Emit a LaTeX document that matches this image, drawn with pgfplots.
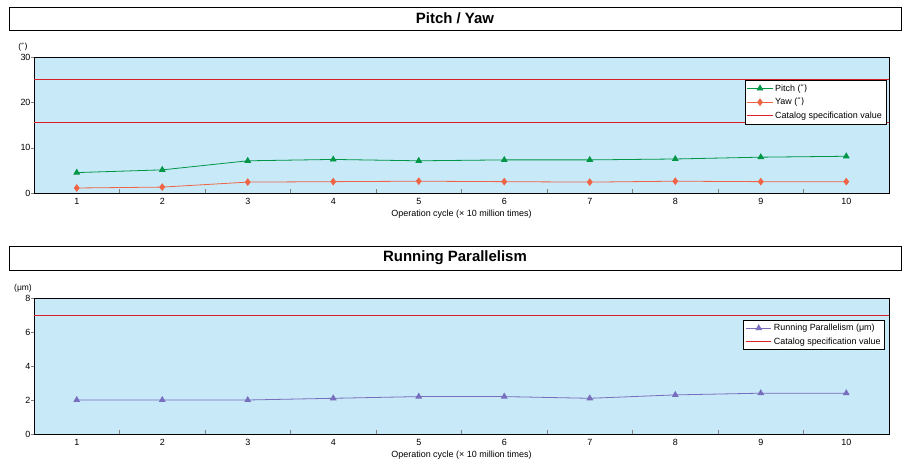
\documentclass[border=0pt]{standalone}
\usepackage{fontspec}
\setmainfont{Liberation Sans}
\newfontfamily\dv{DejaVu Sans}
\usepackage{pgfplots}
\pgfplotsset{compat=1.18}

\definecolor{bgblue}{RGB}{200,233,248}
\definecolor{pgreen}{RGB}{0,150,70}
\definecolor{yred}{RGB}{240,100,70}
\definecolor{specred}{RGB}{220,30,40}
\definecolor{ppurple}{RGB}{120,110,190}

\pgfplotsset{
  runchart/.style={
    width=855bp, height=136bp, scale only axis, anchor=south west,
    axis background/.style={fill=bgblue},
    xmin=0.5, xmax=10.5,
    tick pos=left,
    xtick={1.5,2.5,...,9.5}, xticklabels={},
    extra x ticks={1,...,10},
    extra tick style={major tick length=0pt},
    major tick length=3.5bp,
    ytick style={xshift=-3.5bp},
    /pgf/number format/assume math mode=true,
    tick label style={font=\fontsize{9}{10}\selectfont},
    xticklabel style={yshift=-2bp},
    label style={font=\fontsize{9}{10}\selectfont},
    xlabel={Operation cycle (× 10 million times)},
    xlabel style={yshift=2bp},
    legend style={font=\fontsize{9}{10}\selectfont, draw=black, fill=white,
      cells={anchor=west}, row sep=1.5pt, inner sep=2pt},
    legend image code/.code={\draw[mark repeat=2,mark phase=2]
      plot coordinates {(0cm,0cm) (0.45cm,0cm) (0.9cm,0cm)};},
    every axis plot/.append style={line width=0.8bp},
  }
}

\begin{document}
\begin{tikzpicture}[x=1bp,y=1bp]
\useasboundingbox (0,0) rectangle (912,465);

% title boxes
\draw[line width=0.8bp] (9,458) rectangle (901,435);
\node[font=\bfseries\fontsize{15}{17}\selectfont] at (455,446.5) {Pitch / Yaw};
\draw[line width=0.8bp] (9,219) rectangle (901,195);
\node[font=\bfseries\fontsize{15}{17}\selectfont] at (455,207) {Running Parallelism};

\node[font=\fontsize{8.5}{9}\selectfont] at (23,418) {(\dv{″})};
\node[font=\fontsize{8.5}{9}\selectfont] at (23,177) {(μm)};

\begin{axis}[runchart, at={(34bp,272bp)},
  ymin=0, ymax=30, ytick={0,10,20,30},
  legend style={at={(0.9965,0.83)}, anchor=north east}]
\addplot[pgreen, mark=triangle*, mark size=3.2bp] coordinates {
  (1,4.5) (2,5.1) (3,7.1) (4,7.4) (5,7.1) (6,7.3) (7,7.3) (8,7.5) (9,7.9) (10,8.1)};
\addplot[yred, mark=diamond*, mark size=3.2bp] coordinates {
  (1,1.1) (2,1.3) (3,2.4) (4,2.5) (5,2.6) (6,2.5) (7,2.4) (8,2.6) (9,2.5) (10,2.5)};
\addplot[specred, no marks] coordinates {(0.5,25) (10.5,25)};
\addplot[specred, no marks, forget plot] coordinates {(0.5,15.6) (10.5,15.6)};
\legend{Pitch (\dv{″}), Yaw (\dv{″}), Catalog specification value}
\end{axis}

\begin{axis}[runchart, at={(34bp,31bp)},
  ymin=0, ymax=8, ytick={0,2,...,8},
  legend style={at={(0.995,0.838)}, anchor=north east}]
\addplot[ppurple, mark=triangle*, mark size=3.2bp] coordinates {
  (1,2.0) (2,2.0) (3,2.0) (4,2.1) (5,2.2) (6,2.2) (7,2.1) (8,2.3) (9,2.4) (10,2.4)};
\addplot[specred, no marks] coordinates {(0.5,7) (10.5,7)};
\legend{Running Parallelism (μm), Catalog specification value}
\end{axis}
\end{tikzpicture}
\end{document}
